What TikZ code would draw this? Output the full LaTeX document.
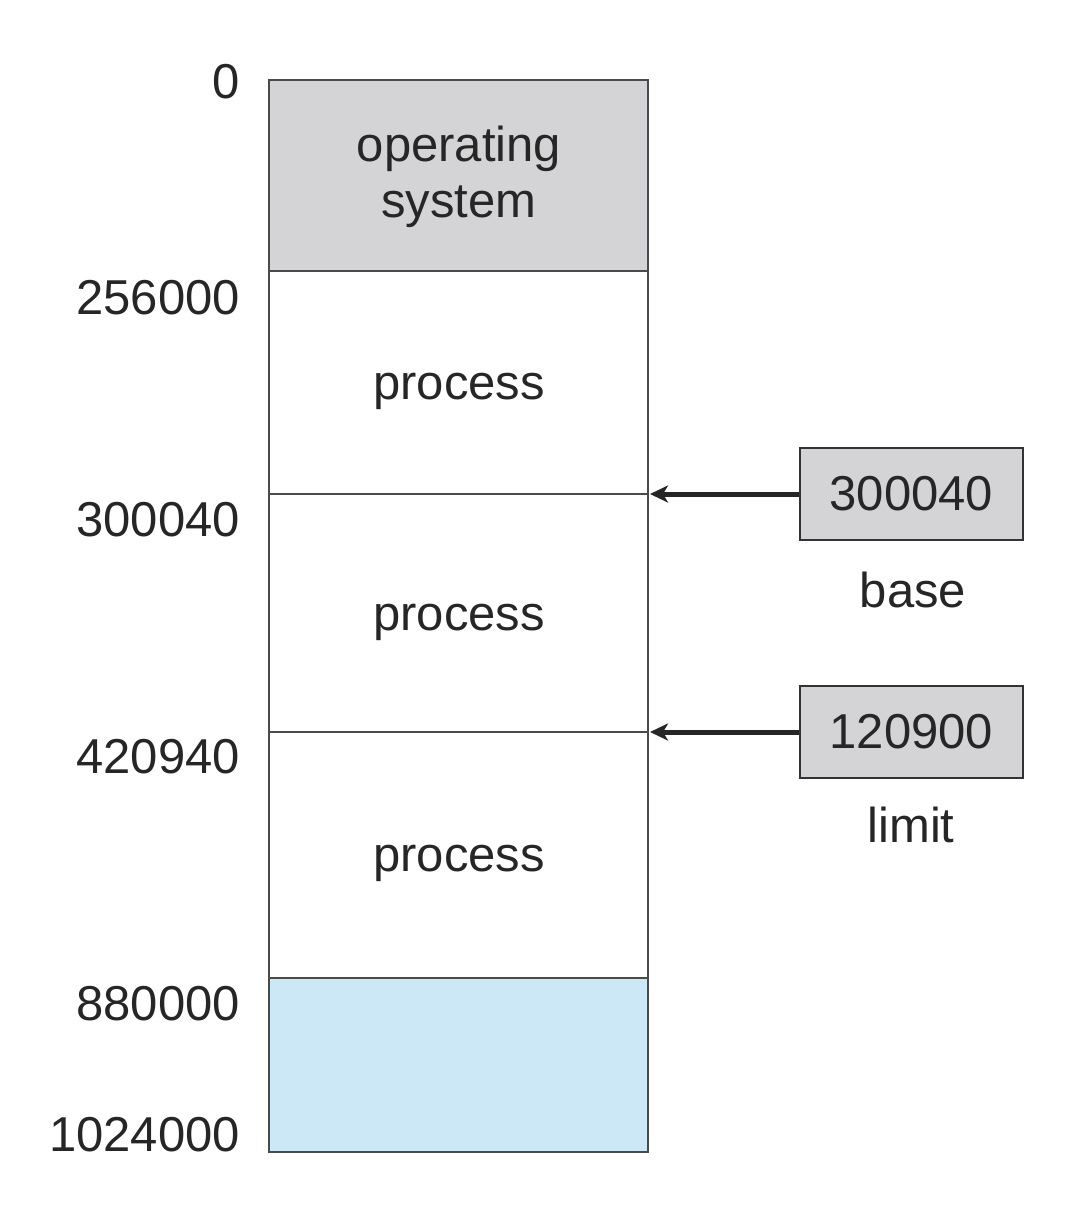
\documentclass[tikz,border=0pt]{standalone}
\usepackage{fontspec}
\setmainfont{Liberation Sans}
\usetikzlibrary{arrows.meta}
\definecolor{osgray}{HTML}{D4D4D6}
\definecolor{freeblue}{HTML}{CCE8F6}
\definecolor{linegray}{HTML}{4A4A4A}
\begin{document}
\begin{tikzpicture}[x=1bp,y=-1bp,
  txt/.style={font=\fontsize{49bp}{56bp}\selectfont, text=black!85, inner sep=0pt},
  addr/.style={txt, anchor=east},
  seg/.style={draw=linegray, line width=2bp},
  regbox/.style={draw=black!80, fill=osgray, line width=2.5bp, minimum width=223bp, minimum height=92bp, inner sep=0pt, font=\fontsize{49bp}{56bp}\selectfont, text=black!85},
  ptr/.style={draw=black!85, line width=5bp, -{Stealth[length=18bp,width=17bp,inset=5bp]}}
]
\useasboundingbox (0,0) rectangle (1066,1226);
% memory column
\fill[osgray] (269,80) rectangle (648,271);
\fill[freeblue] (269,978) rectangle (648,1152);
\draw[seg] (269,80) rectangle (648,1152);
\draw[seg] (269,271) -- (648,271);
\draw[seg] (269,494) -- (648,494);
\draw[seg] (269,732) -- (648,732);
\draw[seg] (269,978) -- (648,978);
\coordinate (b1) at (650,494);
\coordinate (b2) at (650,732);
% contents
\node[txt, align=center] (os) at (459,177) {operating\\system};
\node[txt] (p1) at (459,391) {process};
\node[txt] (p2) at (459,622) {process};
\node[txt] (p3) at (459,863) {process};
% addresses
\node[addr] (a0) at (240,82) {0};
\node[addr] (a1) at (240,298) {256000};
\node[addr] (a2) at (240,520) {300040};
\node[addr] (a3) at (240,757) {420940};
\node[addr] (a4) at (240,1004) {880000};
\node[addr] (a5) at (240,1135) {1024000};
% registers
\node[regbox] (base) at (911.5,494) {300040};
\node[txt] (basel) at (913,590) {base};
\node[regbox] (limit) at (911.5,732) {120900};
\node[txt] (limitl) at (911,825) {limit};
\draw[ptr] (base.west) -- (b1);
\draw[ptr] (limit.west) -- (b2);
\end{tikzpicture}
\end{document}
